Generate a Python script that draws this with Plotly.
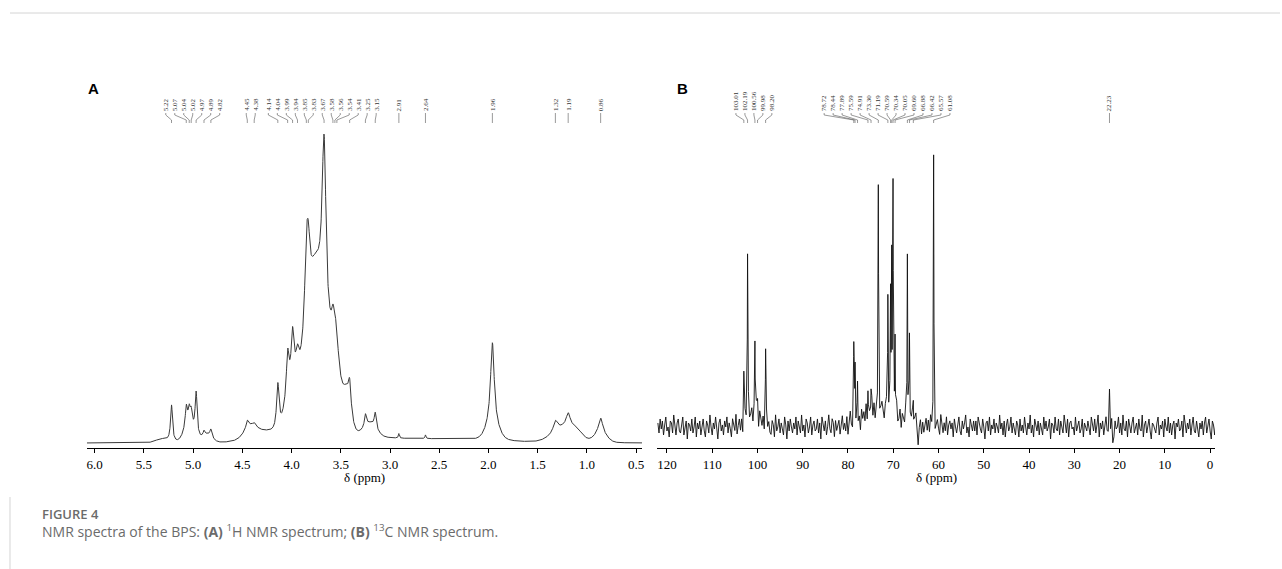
import numpy as np
import plotly.graph_objects as go

W, H = 1282, 569

# ---------------- 1H NMR (panel A) ----------------
h_ticks = [6.0, 5.5, 5.0, 4.5, 4.0, 3.5, 3.0, 2.5, 2.0, 1.5, 1.0, 0.5]
# labelled resonances: shift (ppm), intensity, half width (ppm)
h_peak_ppm = [5.22, 5.07, 5.04, 5.02, 4.97, 4.89, 4.82, 4.45, 4.38, 4.14, 4.04, 3.99, 3.94,
              3.85, 3.83, 3.67, 3.58, 3.56, 3.54, 3.41, 3.25, 3.15, 2.91, 2.64, 1.96, 1.32, 1.19, 0.86]
h_peak_amp = [12, 6.5, 4.6, 4, 14, 1.5, 2.5, 2.5, 1, 15, 13, 14, 7,
              22, 16, 60, 5, 4, 3.5, 8, 4, 5, 1.5, 1.2, 27, 3.5, 4.5, 5]
h_peak_hwhm = [0.012, 0.012, 0.012, 0.01, 0.012, 0.01, 0.012, 0.015, 0.015, 0.015, 0.015, 0.015, 0.02,
               0.02, 0.02, 0.025, 0.015, 0.015, 0.015, 0.015, 0.012, 0.012, 0.006, 0.006, 0.022, 0.025, 0.025, 0.025]
# broad, overlapping envelopes: centre (ppm), intensity, sigma (ppm)
h_broad_ppm = [5.04, 4.86, 4.42, 4.30, 4.00, 3.76, 3.65, 3.56, 3.44, 3.20, 2.60, 1.96, 1.22, 1.10, 0.86, 5.32]
h_broad_amp = [6, 2.5, 3, 3, 15, 52, 3, 22, 12, 4, 1.3, 5, 5, 1.5, 3, 1.2]
h_broad_sigma = [0.05, 0.05, 0.06, 0.15, 0.06, 0.10, 0.35, 0.05, 0.04, 0.06, 0.6, 0.06, 0.12, 0.05, 0.06, 0.06]

# ---------------- 13C NMR (panel B) ----------------
c_ticks = [120, 110, 100, 90, 80, 70, 60, 50, 40, 30, 20, 10, 0]
c_peak_ppm = [103.01, 102.19, 100.56, 99.98, 98.20, 78.72, 78.44, 77.89, 75.59, 74.91, 73.30,
              71.19, 70.59, 70.34, 70.05, 69.60, 66.88, 66.42, 65.57, 61.08, 22.23]
c_peak_amp = [24, 85, 38, 12, 38, 36, 28, 14, 10, 13, 108,
              58, 58, 80, 110, 40, 80, 38, 16, 132, 18]
c_broad_ppm = [101.0, 73.0, 66.5]
c_broad_amp = [6, 9, 3]
c_broad_sigma = [1.5, 3.5, 1.0]
# baseline noise, one value every 0.25 ppm starting at 122 ppm
c_noise = [
    2, -3, 4, -1, 3, -4, 1, 5, -2, 0, -5, 3, 2, -3, 6, -1, -4, 2, 4, -2,
    -3, 1, 5, -4, 0, 3, -6, 2, 1, -2, 4, -3, 0, 5, -5, 2, -1, 3, -4, 1,
    4, -2, -5, 3, 1, -3, 6, 0, -4, 2, -1, 5, -3, -6, 2, 4, -2, 1, -4, 3,
    0, 5, -3, 2, -1, -5, 4, 1, -2, 6, -4, 0, 3, -3, 2, -6, 1, 4, -1, -3,
    5, -2, 0, 3, -4, 2, -1, 6, -3, -5, 4, 1, -2, 3, -4, 0, 5, -1, 2, -3,
    -4, 3, 1, -5, 6, -2, 0, 4, -3, 2, -1, -4, 5, 1, -6, 3, -2, 4, 0, -3,
    2, -1, 5, -4, 3, 0, -3, 6, -2, 1, -5, 4, 2, -3, 0, 5, -4, 1, 3, -2,
    -1, 4, -3, 2, -6, 5, 1, -2, 3, -4, 0, 6, -1, -3, 4, 2, -5, 3, -2, 1,
    3, -4, 0, 5, -2, 1, -3, 4, -5, 2, 6, -1, -4, 3, 0, -2, 5, -3, 1, -6,
    4, -1, 2, -3, 5, -4, 1, 0, -2, 6, -3, 3, -5, 2, -1, 4, -4, 0, 3, -2,
    -5, 2, 4, -1, -3, 5, 0, -4, 3, 1, -2, 6, -3, -1, 4, -5, 2, 0, -3, 5,
    1, -4, 3, -2, 0, 4, -6, 2, 5, -3, -10, -1, 3, -4, 2, -3, 1, 4, -2, 3,
    -3, 5, 0, -2, 4, -5, 1, 3, -1, -4, 6, 0, -3, 2, -2, 5, -4, 1, 3, -1,
    2, -5, 4, 0, -3, 1, 5, -2, -4, 3, -1, 2, 6, -3, 0, -5, 4, 1, -2, 3,
    -2, 3, -4, 5, 1, -1, -3, 4, 0, -6, 2, 3, -2, 5, -4, 1, -1, 4, -3, 2,
    0, -3, 6, -1, 2, -4, 3, -5, 1, 4, -2, 0, 5, -3, 2, -1, -4, 3, 1, -5,
    4, -2, 1, -3, 5, 0, -4, 2, -1, 6, -3, 1, -5, 4, 0, -2, 3, -4, 2, -1,
    -4, 5, -1, 3, -2, 0, 4, -6, 2, 1, -3, 5, -1, -2, 4, -4, 3, 0, -3, 6,
    1, -3, 4, -5, 2, 3, -1, 0, -4, 5, -2, 1, 3, -3, -1, 4, -5, 2, 0, -2,
    3, -1, -4, 5, 0, -2, 4, -3, 1, 6, -5, 2, -1, 3, -4, 0, 5, -2, -3, 1,
    -2, 4, -8, -5, 3, -1, 0, 5, -3, 2, -4, 6, -1, -2, 3, -5, 4, 1, -3, 2,
    5, -3, 0, 2, -4, 4, -1, -2, 6, -5, 1, 3, -3, 0, 4, -2, -6, 2, 1, -1,
    -3, 2, 5, -4, 1, -1, 3, -5, 4, 0, -2, 5, -3, 2, -4, 1, 3, -6, 2, 0,
    4, -2, -1, 3, -5, 6, 0, -3, 2, -1, 4, -4, 1, 5, -2, -3, 3, 0, -5, 2,
    -1, 3, -4, 2, 5, -3, 0, 4, -2, -6, 3, 1, -4, 2, 0, -3, 5, -1, 2, -4,
]
C_HWHM = 0.06

# ---------------- geometry ----------------
A_RANGE = [6.08, 0.44]
B_RANGE = [122.2, -1.1]
A_PX = (87, 643)
B_PX = (658, 1217)
Y_BOTTOM_PX, Y_TOP_PX = 448, 130


def paper_x(px):
    return px / W


def paper_y(px):
    return (H - px) / H


def lorentz(x, x0, a, w):
    return a / (1 + ((x - x0) / w) ** 2)


def gauss(x, x0, a, s):
    return a * np.exp(-((x - x0) ** 2) / (2 * s * s))


# 1H spectrum
hx = np.linspace(A_RANGE[0], A_RANGE[1], 4000)
hy = np.zeros_like(hx)
for p, a, w in zip(h_peak_ppm, h_peak_amp, h_peak_hwhm):
    hy += lorentz(hx, p, a, w)
for p, a, s in zip(h_broad_ppm, h_broad_amp, h_broad_sigma):
    hy += gauss(hx, p, a, s)

# 13C spectrum: noise grid plus the exact peak centres
grid_x = 122.0 - 0.25 * np.arange(len(c_noise))
noise = np.array(c_noise, dtype=float)
centre_idx = [int(round((122.0 - p) / 0.25)) for p in c_peak_ppm]
cx = np.concatenate([grid_x, np.array(c_peak_ppm)])
cn = np.concatenate([noise, noise[centre_idx]])
order = np.argsort(-cx)
cx, cn = cx[order], cn[order]
cy = cn.copy()
for p, a in zip(c_peak_ppm, c_peak_amp):
    cy += lorentz(cx, p, a, C_HWHM)
for p, a, s in zip(c_broad_ppm, c_broad_amp, c_broad_sigma):
    cy += gauss(cx, p, a, s)

fig = go.Figure()
fig.add_trace(go.Scatter(x=hx, y=hy, mode="lines", line=dict(color="#3a3a3a", width=1),
                         xaxis="x", yaxis="y", hoverinfo="skip", showlegend=False))
fig.add_trace(go.Scatter(x=cx, y=cy, mode="lines", line=dict(color="#111111", width=0.9),
                         xaxis="x2", yaxis="y2", hoverinfo="skip", showlegend=False))

y_dom = [paper_y(Y_BOTTOM_PX), paper_y(Y_TOP_PX)]
# intensity scales: 1H baseline at y=443 px, main peak (100) at y=137 px
a_unit = (443 - 137) / 100.0
a_yr = [-(Y_BOTTOM_PX - 443) / a_unit, (443 - Y_TOP_PX) / a_unit]
# 13C baseline at y=427 px, 2 px per unit
b_unit = 2.0
b_yr = [-(Y_BOTTOM_PX - 427) / b_unit, (427 - Y_TOP_PX) / b_unit]

axis_common = dict(showline=True, linecolor="black", linewidth=1, ticks="outside", ticklen=4,
                   tickwidth=1, tickcolor="black", showgrid=False, zeroline=False,
                   tickfont=dict(family="Liberation Serif", size=13, color="black"))

fig.update_layout(
    width=W, height=H, margin=dict(l=0, r=0, t=0, b=0),
    paper_bgcolor="white", plot_bgcolor="white", showlegend=False,
    xaxis=dict(domain=[paper_x(A_PX[0]), paper_x(A_PX[1])], range=A_RANGE, anchor="y",
               tickvals=h_ticks, ticktext=[f"{t:.1f}" for t in h_ticks], **axis_common),
    yaxis=dict(domain=y_dom, range=a_yr, visible=False, anchor="x"),
    xaxis2=dict(domain=[paper_x(B_PX[0]), paper_x(B_PX[1])], range=B_RANGE, anchor="y2",
                tickvals=c_ticks, ticktext=[str(t) for t in c_ticks], **axis_common),
    yaxis2=dict(domain=y_dom, range=b_yr, visible=False, anchor="x2"),
)


def spread_labels(px_list, gap):
    """Keep labels at least `gap` px apart while staying close to their peaks."""
    clusters = []  # [start, count, sum of (p - k*gap)]
    for p in px_list:
        clusters.append([p, 1, p])
        while len(clusters) > 1:
            a, b = clusters[-2], clusters[-1]
            if a[0] + a[1] * gap > b[0]:
                n = a[1] + b[1]
                s = a[2] + b[2] - a[1] * gap * b[1]
                clusters[-2:] = [[s / n, n, s]]
            else:
                break
    out = []
    for start, n, _ in clusters:
        out.extend(start + k * gap for k in range(n))
    return out


def add_peak_labels(values, rng, px_span, xref):
    x0, x1 = px_span
    scale = (x1 - x0) / (rng[0] - rng[1])
    to_px = lambda v: x0 + (rng[0] - v) * scale
    to_ppm = lambda px: rng[0] - (px - x0) / scale
    vals = sorted(values, reverse=True)
    peak_px = [to_px(v) for v in vals]
    lab_px = spread_labels(peak_px, 9.0)
    ya, yb, yc, yd = paper_y(113), paper_y(115), paper_y(120), paper_y(123)
    for v, lp in zip(vals, lab_px):
        fig.add_annotation(x=to_ppm(lp), y=paper_y(113), xref=xref, yref="paper",
                           text=f"{v:.2f}", textangle=-90, showarrow=False,
                           xanchor="center", yanchor="bottom",
                           font=dict(family="Liberation Serif", size=7, color="#333333"))
        lx = to_ppm(lp)
        fig.add_shape(type="path", xref=xref, yref="paper",
                      path=f"M {lx},{ya} L {lx},{yb} L {v},{yc} L {v},{yd}",
                      line=dict(color="#555555", width=0.6))


add_peak_labels(h_peak_ppm, A_RANGE, A_PX, "x")
add_peak_labels(c_peak_ppm, B_RANGE, B_PX, "x2")

# axis titles
for px_span in (A_PX, B_PX):
    fig.add_annotation(x=paper_x((px_span[0] + px_span[1]) / 2), y=paper_y(477),
                       xref="paper", yref="paper", text="δ (ppm)", showarrow=False,
                       xanchor="center", yanchor="middle",
                       font=dict(family="Liberation Serif", size=13, color="black"))

# panel letters
for letter, px in (("A", 94), ("B", 684)):
    fig.add_annotation(x=paper_x(px), y=paper_y(88), xref="paper", yref="paper",
                       text=f"<b>{letter}</b>", showarrow=False, xanchor="center", yanchor="middle",
                       font=dict(family="Liberation Sans", size=15, color="black"))

# caption
fig.add_annotation(x=paper_x(40), y=paper_y(514), xref="paper", yref="paper",
                   text="FIGURE 4", showarrow=False, xanchor="left", yanchor="middle",
                   font=dict(family="Open Sans", size=13, color="#6b6b6b", weight=600))
fig.add_annotation(x=paper_x(40), y=paper_y(531), xref="paper", yref="paper",
                   text="NMR spectra of the BPS: <b>(A)</b> <sup>1</sup>H NMR spectrum; "
                        "<b>(B)</b> <sup>13</sup>C NMR spectrum.",
                   showarrow=False, xanchor="left", yanchor="middle",
                   font=dict(family="Open Sans", size=14, color="#6b6b6b"))

# frame lines
fig.add_shape(type="line", xref="paper", yref="paper", x0=paper_x(10), x1=1,
              y0=paper_y(13), y1=paper_y(13), line=dict(color="#d4d4d4", width=1))
fig.add_shape(type="line", xref="paper", yref="paper", x0=paper_x(10), x1=paper_x(10),
              y0=paper_y(497), y1=0, line=dict(color="#d4d4d4", width=1))

fig.write_html("out.html")
